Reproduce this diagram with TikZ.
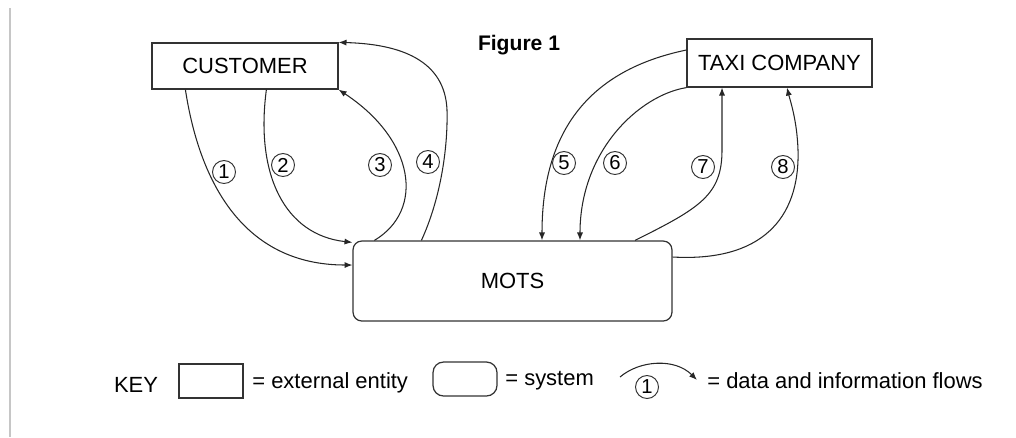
\documentclass[tikz,border=0pt]{standalone}
\usepackage{fontspec}
\setmainfont{Liberation Sans}
\usetikzlibrary{arrows.meta,calc,positioning}

\begin{document}
\begin{tikzpicture}[
    >={Latex[length=4.5pt,width=3.5pt]},
    font=\fontsize{12.5}{15}\selectfont,
    x=0.02cm,
    y=-0.02cm,
    entity/.style={draw=black!80,line width=0.7pt,inner sep=0pt},
    system/.style={draw=black!80,line width=0.7pt,rounded corners=5pt,inner sep=0pt},
    flow/.style={->,draw=black!85,line width=0.6pt},
    flownum/.style={draw=black!80,circle,fill=white,line width=0.55pt,
        inner sep=0.5pt,minimum size=0.46cm,font=\fontsize{11.5}{13}\selectfont}
]

\useasboundingbox (0,0) rectangle (1016,437);

% Margines strony
\draw[gray!45,line width=0.6pt]
    (10,8) -- (10,437);

% Tytul
\node[font=\fontsize{12}{14}\selectfont\bfseries] (figtitle) at (519,45)
    {Figure 1};

% Obiekty
\node[entity,minimum width=3.72cm,minimum height=0.92cm] (cust) at (245,66)
    {CUSTOMER};

\node[entity,minimum width=3.7cm,minimum height=0.96cm] (taxi) at (779.5,63)
    {TAXI COMPANY};

\node[system,minimum width=6.38cm,minimum height=1.6cm] (mots) at (512.5,281)
    {MOTS};

% Przeplywy klient -- system
\draw[flow]
    ([xshift=0.68cm]cust.south west)
    .. controls (200,185) and (245,265) ..
    ([yshift=0.32cm]mots.west);

\draw[flow]
    ([xshift=2.3cm]cust.south west)
    .. controls (255,175) and (285,235) ..
    ([yshift=-0.04cm]mots.north west);

\draw[flow]
    ([xshift=0.44cm]mots.north west)
    .. controls (425,210) and (415,140) ..
    (cust.south east);

\draw[flow]
    ([xshift=1.38cm]mots.north west)
    .. controls (440,200) and (448,150) ..
    (447,110)
    .. controls (445,60) and (400,44) ..
    (cust.north east);

% Przeplywy taxi -- system
\draw[flow]
    ([yshift=0.26cm]taxi.west)
    .. controls (590,70) and (542,130) ..
    ([xshift=0.59cm]mots.north);

\draw[flow]
    (taxi.south west)
    .. controls (640,95) and (580,150) ..
    ([xshift=1.35cm]mots.north);

\draw[flow]
    ([xshift=2.45cm]mots.north)
    .. controls (700,208) and (722,195) ..
    (722,150)
    --
    ([xshift=-1.15cm]taxi.south);

\draw[flow]
    ([yshift=0.48cm]mots.east)
    .. controls (760,262) and (800,220) ..
    (798,150)
    .. controls (797,120) and (790,100) ..
    ([xshift=0.15cm]taxi.south);

% Numery przeplywow
\node[flownum] (f1) at (224,172) {1};
\node[flownum] (f2) at (283,165) {2};
\node[flownum] (f3) at (380,165) {3};
\node[flownum] (f4) at (428,162) {4};
\node[flownum] (f5) at (564,163) {5};
\node[flownum] (f6) at (615,163) {6};
\node[flownum] (f7) at (703,167) {7};
\node[flownum] (f8) at (783,167) {8};

% Legenda
\node (keyword) at (136,385)
    {KEY};

\node[entity,minimum width=1.28cm,minimum height=0.68cm] (keyent) at (211,381)
    {};
\node[anchor=west,inner sep=0pt] (keyenttxt) at (252,383)
    {= external entity};

\node[system,rounded corners=6pt,minimum width=1.28cm,minimum height=0.68cm] (keysys) at (465,379)
    {};
\node[anchor=west,inner sep=0pt] (keysystxt) at (505,381)
    {= system};

\coordinate (keyfrom) at (620,377);
\coordinate (keyto) at (697,380);
\draw[flow]
    (keyfrom)
    .. controls (640,360) and (675,358) ..
    (keyto);
\node[flownum] (keynum) at (647,387) {1};
\node[anchor=west,inner sep=0pt] (keyflowtxt) at (707,381)
    {= data and information flows};

\end{tikzpicture}
\end{document}
